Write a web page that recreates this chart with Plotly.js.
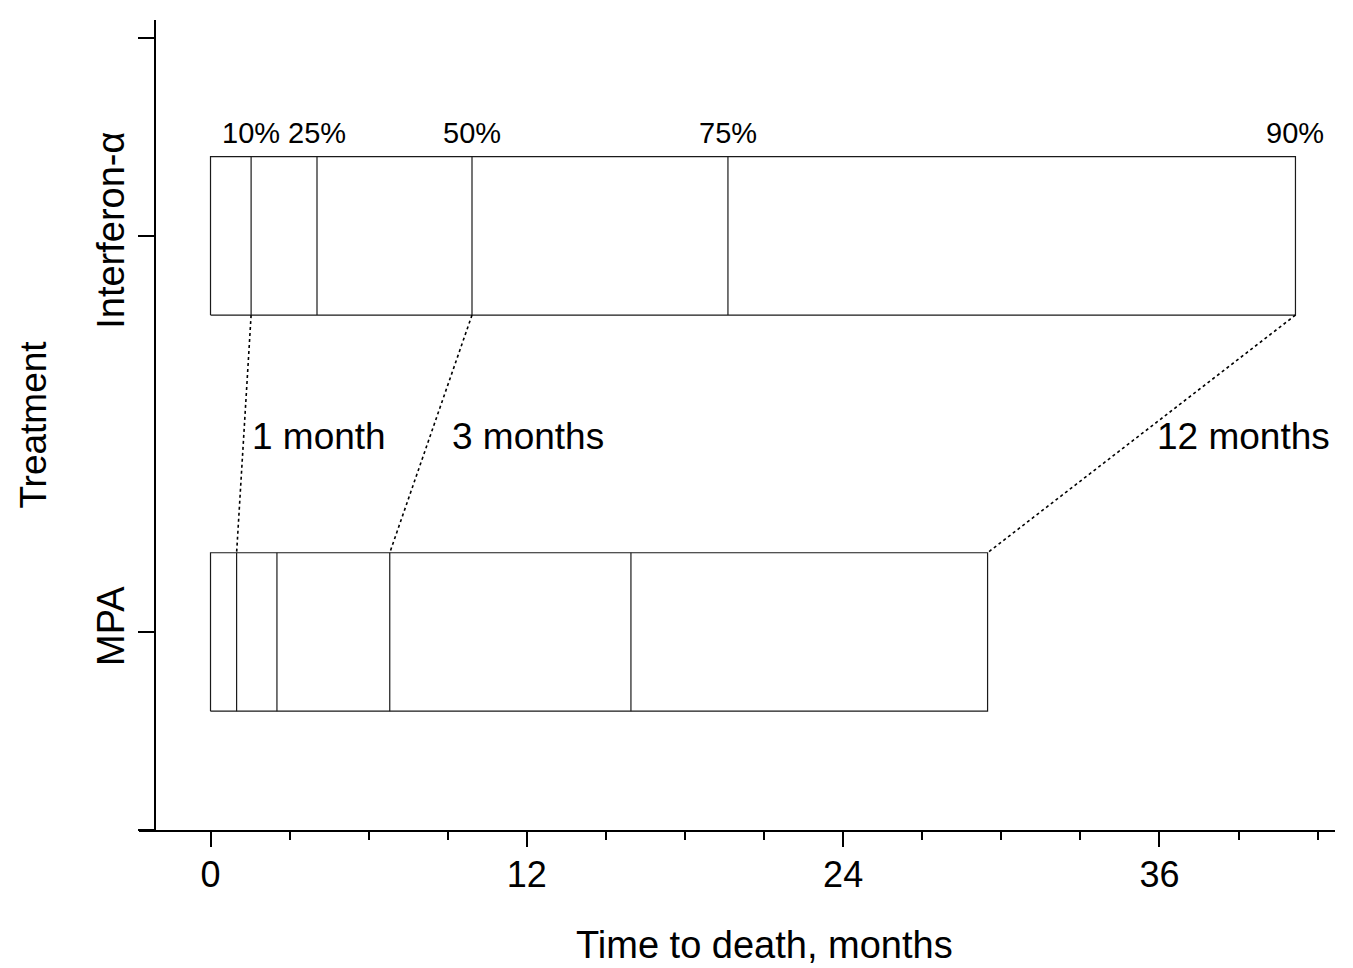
<!DOCTYPE html>
<html>
<head>
<meta charset="utf-8">
<script src="https://cdn.plot.ly/plotly-3.0.1.min.js"></script>
<style>html,body{margin:0;padding:0;background:#fff;}#chart{width:1353px;height:968px;}</style>
</head>
<body>
<div id="chart"></div>
<script>
// Treatment groups (y positions 0 and 1)
const categories = ['MPA', 'Interferon-\u03b1'];
// Percentiles of time to death (months)
const percentiles = ['10%', '25%', '50%', '75%', '90%'];
const mpaValues = [0.99, 2.52, 6.80, 15.95, 29.48];
const interferonValues = [1.54, 4.04, 9.92, 19.63, 41.16];
// Differences between the two treatments at selected percentiles
const diffLabels = ['1 month', '3 months', '12 months'];
const diffIndex = [0, 2, 4];
// x-axis ticks
const majorTicks = [0, 12, 24, 36];

const series = [mpaValues, interferonValues];
const halfH = 0.2;
const lineColor = '#1a1a1a';
const traces = [];

series.forEach((vals, gi) => {
  const c = gi;
  const last = vals[vals.length - 1];
  traces.push({
    type: 'scatter', mode: 'lines', hoverinfo: 'skip', showlegend: false,
    x: [0, last, last, 0, 0],
    y: [c - halfH, c - halfH, c + halfH, c + halfH, c - halfH],
    line: {color: lineColor, width: 1.2}
  });
  const xs = [], ys = [];
  vals.slice(0, -1).forEach(v => { xs.push(v, v, null); ys.push(c - halfH, c + halfH, null); });
  traces.push({
    type: 'scatter', mode: 'lines', hoverinfo: 'skip', showlegend: false,
    x: xs, y: ys, line: {color: lineColor, width: 1.2}
  });
});

diffIndex.forEach(i => {
  traces.push({
    type: 'scatter', mode: 'lines', hoverinfo: 'skip', showlegend: false,
    x: [interferonValues[i], mpaValues[i]],
    y: [1 - halfH, 0 + halfH],
    line: {color: '#000', width: 1.6, dash: 'dot'}
  });
});

const font = 'Liberation Sans, Arial, Helvetica, sans-serif';
const annotations = [];
percentiles.forEach((p, i) => {
  annotations.push({
    x: interferonValues[i], y: 1 + halfH, xref: 'x', yref: 'y',
    text: p, showarrow: false, xanchor: 'center', yanchor: 'middle', yshift: 24,
    font: {family: font, size: 29, color: '#000'}
  });
});
const diffX = [1.5, 9.09, 35.83];
diffLabels.forEach((t, k) => {
  annotations.push({
    x: diffX[k], y: 0.5, xref: 'x', yref: 'y',
    text: t, showarrow: false, xanchor: 'left', yanchor: 'middle', yshift: -3,
    font: {family: font, size: 37, color: '#000'}
  });
});
// x-axis title (centred as in the original figure)
annotations.push({
  x: 0.5234, y: -0.142, xref: 'paper', yref: 'paper',
  text: 'Time to death, months', showarrow: false, xanchor: 'center', yanchor: 'middle',
  font: {family: font, size: 38, color: '#000'}
});

const layout = {
  width: 1353, height: 968,
  paper_bgcolor: '#fff', plot_bgcolor: '#fff',
  margin: {l: 139, r: 18, t: 20, b: 138, autoexpand: false},
  font: {family: font, color: '#000'},
  showlegend: false,
  xaxis: {
    range: [-2.713, 42.66], automargin: false,
    showline: true, linecolor: '#000', linewidth: 2,
    showgrid: false, zeroline: false,
    ticks: 'outside', ticklen: 15, tickwidth: 2, tickcolor: '#000',
    tickmode: 'array', tickvals: majorTicks, ticktext: majorTicks.map(String),
    minor: {ticks: 'outside', ticklen: 8, tickwidth: 2, tickcolor: '#000', tickmode: 'linear', tick0: 0, dtick: 3, showgrid: false},
    tickfont: {family: font, size: 36, color: '#000'},
    ticklabelstandoff: -3
  },
  yaxis: {
    range: [-0.5, 1.545], automargin: false,
    anchor: 'free', position: 16 / 1196,
    showline: true, linecolor: '#000', linewidth: 2,
    showgrid: false, zeroline: false,
    ticks: 'outside', ticklen: 16, tickwidth: 2, tickcolor: '#000',
    tickmode: 'array', tickvals: [-0.5, 0, 1, 1.5], ticktext: ['', categories[0], categories[1], ''],
    tickangle: -90,
    tickfont: {family: font, size: 38, color: '#000'},
    ticklabelstandoff: -1,
    title: {text: 'Treatment', font: {family: font, size: 37, color: '#000'}, standoff: 31}
  },
  annotations: annotations
};

Plotly.newPlot('chart', traces, layout, {displayModeBar: false, staticPlot: true});
</script>
</body>
</html>
